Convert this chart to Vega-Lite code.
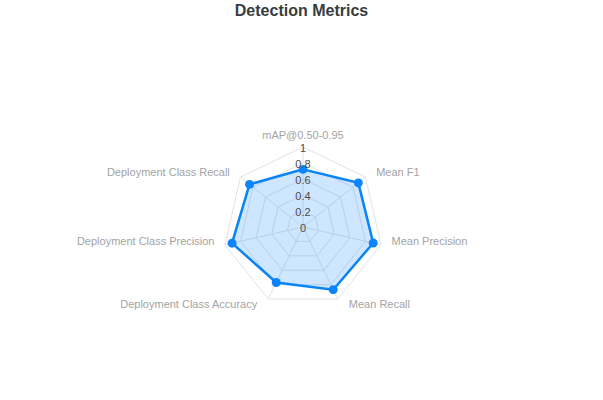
{
  "$schema": "https://vega.github.io/schema/vega-lite/v6.json",
  "width": 603,
  "height": 400,
  "autosize": "none",
  "padding": 0,
  "title": {
    "text": "Detection Metrics",
    "offset": -19,
    "anchor": "middle",
    "font": "Liberation Sans",
    "fontSize": 16,
    "fontWeight": 900,
    "color": "#373d3f"
  },
  "datasets": {
    "metrics": [
      {"metric": "mAP@0.50-0.95", "idx": 0, "value": 0.72},
      {"metric": "Mean F1", "idx": 1, "value": 0.885},
      {"metric": "Mean Precision", "idx": 2, "value": 0.9},
      {"metric": "Mean Recall", "idx": 3, "value": 0.87},
      {"metric": "Deployment Class Accuracy", "idx": 4, "value": 0.77},
      {"metric": "Deployment Class Precision", "idx": 5, "value": 0.91},
      {"metric": "Deployment Class Recall", "idx": 6, "value": 0.855}
    ],
    "rings": [
      {"level": 0.2, "idx": [0, 1, 2, 3, 4, 5, 6]},
      {"level": 0.4, "idx": [0, 1, 2, 3, 4, 5, 6]},
      {"level": 0.6, "idx": [0, 1, 2, 3, 4, 5, 6]},
      {"level": 0.8, "idx": [0, 1, 2, 3, 4, 5, 6]},
      {"level": 1, "idx": [0, 1, 2, 3, 4, 5, 6]}
    ],
    "ticks": [
      {"level": 0, "label": "0"},
      {"level": 0.2, "label": "0.2"},
      {"level": 0.4, "label": "0.4"},
      {"level": 0.6, "label": "0.6"},
      {"level": 0.8, "label": "0.8"},
      {"level": 1, "label": "1"}
    ]
  },
  "config": {"view": {"stroke": null}},
  "layer": [
    {
      "data": {"name": "rings"},
      "transform": [
        {"flatten": ["idx"]},
        {"calculate": "2 * PI * datum.idx / 7", "as": "a"},
        {"calculate": "datum.level * sin(datum.a)", "as": "px"},
        {"calculate": "datum.level * cos(datum.a)", "as": "py"}
      ],
      "mark": {"type": "line", "interpolate": "linear-closed", "stroke": "#e3e3e3", "strokeWidth": 1},
      "encoding": {
        "x": {"field": "px", "type": "quantitative", "axis": null, "scale": {"domain": [-3.7875, 3.75], "nice": false, "zero": false}},
        "y": {"field": "py", "type": "quantitative", "axis": null, "scale": {"domain": [-2.1625, 2.8375], "nice": false, "zero": false}},
        "detail": {"field": "level", "type": "nominal"},
        "order": {"field": "idx", "type": "quantitative"}
      }
    },
    {
      "data": {"name": "metrics"},
      "transform": [
        {"calculate": "2 * PI * datum.idx / 7", "as": "a"},
        {"calculate": "0", "as": "ox"},
        {"calculate": "sin(datum.a)", "as": "px"},
        {"calculate": "cos(datum.a)", "as": "py"}
      ],
      "mark": {"type": "rule", "stroke": "#e3e3e3", "strokeWidth": 1},
      "encoding": {
        "x": {"field": "ox", "type": "quantitative", "axis": null, "scale": {"domain": [-3.7875, 3.75], "nice": false, "zero": false}},
        "y": {"field": "ox", "type": "quantitative", "axis": null, "scale": {"domain": [-2.1625, 2.8375], "nice": false, "zero": false}},
        "x2": {"field": "px"},
        "y2": {"field": "py"}
      }
    },
    {
      "data": {"name": "metrics"},
      "transform": [
        {"calculate": "2 * PI * datum.idx / 7", "as": "a"},
        {"calculate": "datum.value * sin(datum.a)", "as": "px"},
        {"calculate": "datum.value * cos(datum.a)", "as": "py"}
      ],
      "mark": {"type": "line", "interpolate": "linear-closed", "stroke": "#0a84f5", "strokeWidth": 2.5, "fill": "#0a84ff", "fillOpacity": 0.2},
      "encoding": {
        "x": {"field": "px", "type": "quantitative", "axis": null, "scale": {"domain": [-3.7875, 3.75], "nice": false, "zero": false}},
        "y": {"field": "py", "type": "quantitative", "axis": null, "scale": {"domain": [-2.1625, 2.8375], "nice": false, "zero": false}},
        "order": {"field": "idx", "type": "quantitative"}
      }
    },
    {
      "data": {"name": "metrics"},
      "transform": [
        {"calculate": "2 * PI * datum.idx / 7", "as": "a"},
        {"calculate": "datum.value * sin(datum.a)", "as": "px"},
        {"calculate": "datum.value * cos(datum.a)", "as": "py"}
      ],
      "mark": {"type": "point", "filled": true, "shape": "circle", "size": 80, "color": "#0a84ff", "opacity": 1},
      "encoding": {
        "x": {"field": "px", "type": "quantitative", "axis": null, "scale": {"domain": [-3.7875, 3.75], "nice": false, "zero": false}},
        "y": {"field": "py", "type": "quantitative", "axis": null, "scale": {"domain": [-2.1625, 2.8375], "nice": false, "zero": false}}
      }
    },
    {
      "data": {"name": "ticks"},
      "transform": [
        {"calculate": "0", "as": "px"}
      ],
      "mark": {"type": "text", "font": "Liberation Sans", "fontSize": 11, "color": "#4d4d4d", "align": "center", "baseline": "middle", "dy": 2},
      "encoding": {
        "x": {"field": "px", "type": "quantitative", "axis": null, "scale": {"domain": [-3.7875, 3.75], "nice": false, "zero": false}},
        "y": {"field": "level", "type": "quantitative", "axis": null, "scale": {"domain": [-2.1625, 2.8375], "nice": false, "zero": false}},
        "text": {"field": "label", "type": "nominal"}
      }
    },
    {
      "data": {"name": "metrics"},
      "transform": [
        {"calculate": "2 * PI * datum.idx / 7", "as": "a"},
        {"calculate": "(datum.idx == 3 || datum.idx == 4 ? 1.32 : (datum.idx == 2 || datum.idx == 5 ? 1.135 : 1.17)) * sin(datum.a)", "as": "lx"},
        {"calculate": "(datum.idx == 2 || datum.idx == 5 ? 0.85 : 1.08) * cos(datum.a)", "as": "ly"}
      ],
      "mark": {
        "type": "text",
        "font": "Liberation Sans",
        "fontSize": 11,
        "color": "#a3a3a3",
        "align": {"expr": "datum.idx == 0 ? 'center' : (datum.idx < 4 ? 'left' : 'right')"},
        "baseline": {"expr": "datum.idx == 0 ? 'bottom' : 'middle'"}
      },
      "encoding": {
        "x": {"field": "lx", "type": "quantitative", "axis": null, "scale": {"domain": [-3.7875, 3.75], "nice": false, "zero": false}},
        "y": {"field": "ly", "type": "quantitative", "axis": null, "scale": {"domain": [-2.1625, 2.8375], "nice": false, "zero": false}},
        "text": {"field": "metric", "type": "nominal"}
      }
    }
  ]
}
